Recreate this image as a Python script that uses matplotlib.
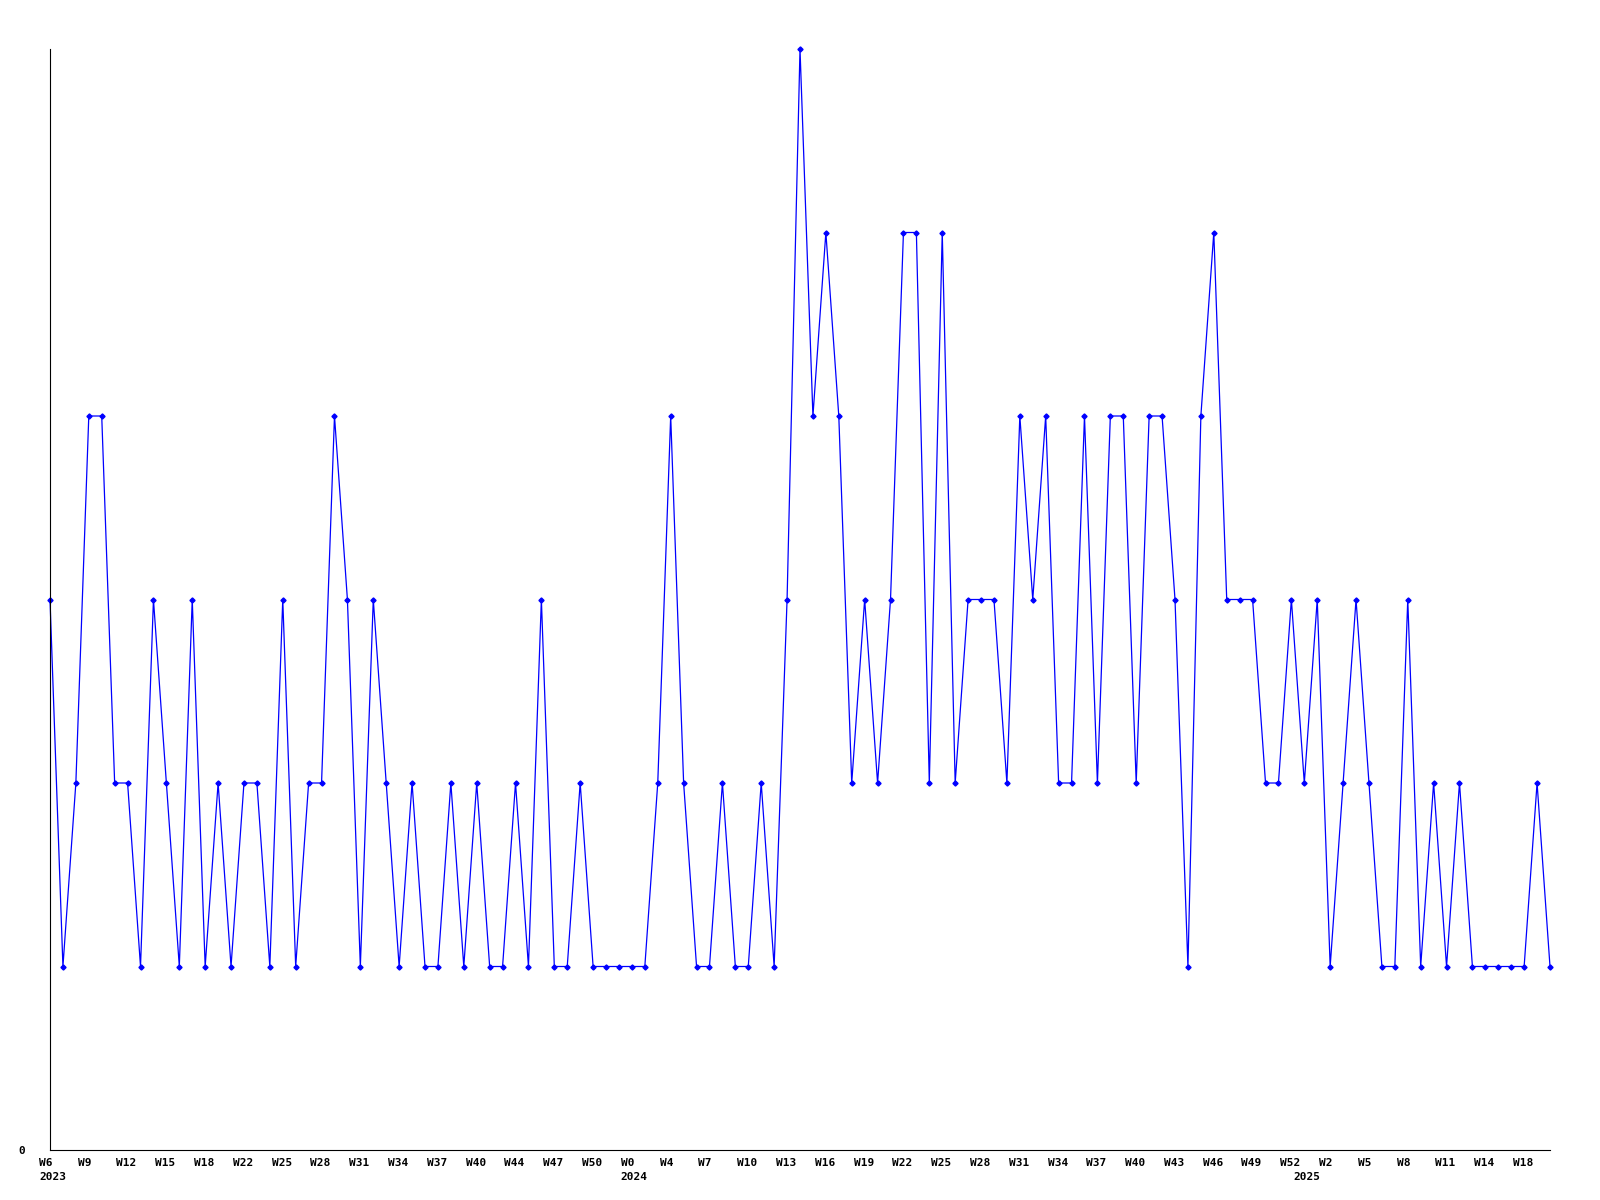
import numpy as np
import matplotlib
matplotlib.use("Agg")
import matplotlib.pyplot as plt

# weekly counts, 2023 W6 .. 2025 W20
values = [3, 1, 2, 4, 4, 2, 2, 1, 3, 2, 1, 3, 1, 2, 1, 2, 2, 1, 3, 1, 2, 2, 4, 3, 1, 3, 2, 1, 2, 1, 1,
          2, 1, 2, 1, 1, 2, 1, 3, 1, 1, 2, 1, 1, 1, 1, 1, 2, 4, 2, 1, 1, 2, 1, 1, 2, 1, 3,
          6, 4, 5, 4, 2, 3, 2, 3, 5, 5, 2, 5, 2, 3, 3, 3, 2, 4, 3, 4, 2, 2, 4, 2, 4, 4, 2, 4, 4, 3, 1, 4,
          5, 3, 3, 3, 2, 2, 3, 2, 3, 1, 2, 3, 2, 1, 1, 3, 1, 2, 1, 2, 1, 1, 1, 1, 1, 2, 1]

week_labels = ["W6", "W9", "W12", "W15", "W18", "W22", "W25", "W28", "W31", "W34",
               "W37", "W40", "W44", "W47", "W50", "W0", "W4", "W7", "W10", "W13",
               "W16", "W19", "W22", "W25", "W28", "W31", "W34", "W37", "W40", "W43",
               "W46", "W49", "W52", "W2", "W5", "W8", "W11", "W14", "W18"]
label_step = 3
years = ["2023", "2024", "2025"]
year_start = [0, 45, 97]  # index of the first week shown for each year

x = np.arange(len(values))

fig = plt.figure(figsize=(16, 12), dpi=100)
ax = fig.add_axes([50 / 1600, 1 - 1150 / 1200, 1500 / 1600, 1101 / 1200])

ax.plot(x, values, color="#0000ff", lw=0.9, marker="D", ms=2.6,
        mfc="#0000ff", mec="#0000ff", clip_on=False)

ax.set_xlim(0, len(values) - 1)
ax.set_ylim(0, 6)

for s in ["top", "right"]:
    ax.spines[s].set_visible(False)
for s in ["left", "bottom"]:
    ax.spines[s].set_color("black")
    ax.spines[s].set_linewidth(0.8)

label_font = dict(family="DejaVu Sans Mono", fontweight="bold", fontsize=8)

# week labels start a bit left of their week, years in a second row
ax.set_xticks([])
tick_pos = x[::label_step][:len(week_labels)]
for pos, w in zip(tick_pos, week_labels):
    ax.annotate(w, xy=(pos, 0), xycoords=("data", "axes fraction"),
                xytext=(-8, -6), textcoords="offset points",
                ha="left", va="top", annotation_clip=False, **label_font)
for pos, yr in zip(year_start, years):
    ax.annotate(yr, xy=(pos, 0), xycoords=("data", "axes fraction"),
                xytext=(-8, -16), textcoords="offset points",
                ha="left", va="top", annotation_clip=False, **label_font)

ax.set_yticks([0])
ax.set_yticklabels(["0"], **label_font)
ax.tick_params(axis="y", length=0, pad=18)

fig.savefig("out.png", dpi=100, facecolor="white")
